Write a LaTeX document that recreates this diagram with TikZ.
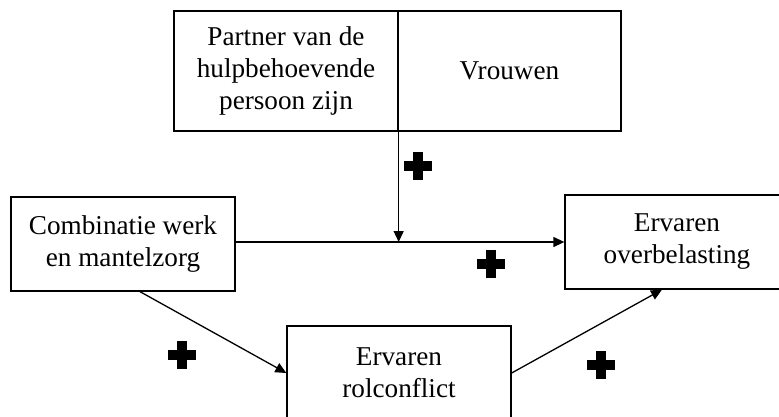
\documentclass[tikz,border=0pt]{standalone}
\usepackage{fontspec}
\setmainfont{Liberation Serif}
\usetikzlibrary{arrows.meta, calc}

\begin{document}
\begin{tikzpicture}[x=1pt, y=-1pt,
    box/.style={draw, line width=1.3pt, rectangle, align=center,
      minimum width=224pt, minimum height=94pt, inner sep=0pt,
      font=\fontsize{27.2}{32}\selectfont},
    pijl/.style={line width=1.3pt, -{Triangle[length=11pt, width=10pt]}},
    kruis/.pic={
      \fill (-14,-5) rectangle (14,5);
      \fill (-5,-14) rectangle (5,14);
    }]
    \useasboundingbox (0,0) rectangle (779,416);
    \clip (0,0) rectangle (779,416);

    % moderators
    \node[box, minimum height=120pt] (partner) at (286,71)
      {Partner van de\\hulpbehoevende\\persoon zijn};
    \node[box, minimum width=223pt, minimum height=120pt] (vrouwen) at (509.5,71)
      {Vrouwen};

    % the model
    \node[box] (combi) at (123,244) {Combinatie werk\\en mantelzorg};
    \node[box] (overbel) at (677,242) {Ervaren\\overbelasting};
    \node[box] (rolconf) at (399,373) {Ervaren\\rolconflict};

    \coordinate (mid) at (partner.south east |- overbel.west);

    \draw[pijl] (combi.east |- overbel.west) -- (overbel.west);
    \draw[pijl] (partner.south east) -- (mid);
    \draw[pijl] ([xshift=17pt]combi.south) -- (rolconf.west);
    \draw[pijl] (rolconf.east) -- ([xshift=-15pt]overbel.south);

    % signs
    \pic at (418,166) {kruis};
    \pic at (491,264) {kruis};
    \pic at (182,355) {kruis};
    \pic at (601,365) {kruis};
\end{tikzpicture}
\end{document}
